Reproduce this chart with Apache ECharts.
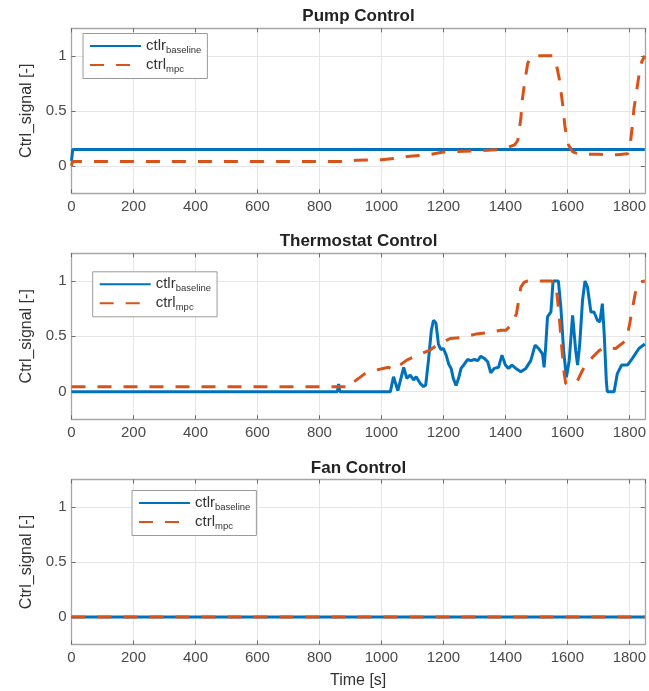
<!DOCTYPE html>
<html>
<head>
<meta charset="utf-8">
<script src="https://cdn.jsdelivr.net/npm/echarts@6/dist/echarts.min.js"></script>
<style>
  html, body { margin: 0; padding: 0; background: #fff; }
  #chart { width: 649px; height: 691px; }
</style>
</head>
<body>
<div id="chart"></div>
<script>
// ---------------- data ----------------
const panelTitles = ['Pump Control', 'Thermostat Control', 'Fan Control'];
const yTickValues = [0, 0.5, 1];
const xMin = 0, xMax = 1850, xStep = 200;
const yMin = -0.25, yMax = 1.25;

const pumpBaseline = [[0, 0.045], [4, 0.148], [1850, 0.148]];
const pumpMpc = [[0, 0.0], [3, 0.04], [880, 0.04], [920, 0.05], [1000, 0.055], [1050, 0.07], [1100, 0.09],
  [1150, 0.1], [1200, 0.125], [1300, 0.135], [1370, 0.145], [1410, 0.17], [1430, 0.19], [1440, 0.23],
  [1450, 0.43], [1455, 0.61], [1464, 0.79], [1472, 0.93], [1482, 0.99], [1498, 1], [1552, 1], [1563, 0.945],
  [1574, 0.79], [1584, 0.58], [1593, 0.34], [1604, 0.19], [1617, 0.127], [1638, 0.106], [1700, 0.105],
  [1760, 0.1], [1795, 0.11], [1804, 0.22], [1810, 0.37], [1815, 0.52], [1823, 0.67], [1831, 0.82],
  [1840, 0.945], [1850, 1.0]];

const thermoBaseline = [[0, 0], [858, 0], [862, 0.07], [866, 0], [1029, 0], [1039, 0.135], [1053, 0.01],
  [1072, 0.22], [1082, 0.12], [1093, 0.15], [1104, 0.105], [1112, 0.135], [1125, 0.075], [1136, 0.045],
  [1143, 0.06], [1152, 0.285], [1161, 0.55], [1168, 0.645], [1176, 0.62], [1184, 0.43], [1192, 0.38],
  [1200, 0.39], [1209, 0.33], [1217, 0.25], [1225, 0.21], [1232, 0.12], [1241, 0.055], [1249, 0.12],
  [1257, 0.21], [1268, 0.25], [1278, 0.29], [1289, 0.28], [1300, 0.29], [1311, 0.28], [1321, 0.32],
  [1332, 0.3], [1343, 0.27], [1353, 0.17], [1364, 0.21], [1378, 0.22], [1389, 0.33], [1400, 0.24],
  [1410, 0.21], [1421, 0.24], [1434, 0.21], [1450, 0.18], [1466, 0.21], [1482, 0.28], [1496, 0.42],
  [1507, 0.39], [1520, 0.34], [1525, 0.22], [1530, 0.4], [1536, 0.675], [1547, 0.72], [1554, 1.0],
  [1571, 1.0], [1579, 0.765], [1588, 0.37], [1597, 0.13], [1606, 0.28], [1617, 0.69], [1627, 0.37],
  [1633, 0.24], [1640, 0.43], [1649, 0.825], [1657, 1.0], [1665, 0.945], [1676, 0.72], [1686, 0.72],
  [1697, 0.645], [1705, 0.63], [1713, 0.795], [1719, 0.52], [1726, 0.087], [1729, 0], [1751, 0],
  [1761, 0.16], [1775, 0.24], [1794, 0.24], [1810, 0.3], [1831, 0.39], [1850, 0.43]];
const thermoMpc = [[0, 0.045], [905, 0.045], [912, 0.09], [948, 0.165], [975, 0.19], [1023, 0.22],
  [1039, 0.195], [1050, 0.22], [1082, 0.285], [1109, 0.32], [1157, 0.375], [1174, 0.41], [1187, 0.43],
  [1222, 0.48], [1262, 0.49], [1305, 0.52], [1348, 0.535], [1386, 0.555], [1402, 0.555], [1418, 0.6],
  [1436, 0.705], [1443, 0.825], [1450, 0.945], [1461, 0.99], [1472, 1.0], [1547, 1.0], [1563, 0.98],
  [1574, 0.675], [1582, 0.4], [1590, 0.16], [1595, 0.07], [1615, 0.08], [1633, 0.1], [1643, 0.16],
  [1660, 0.25], [1681, 0.31], [1702, 0.37], [1719, 0.4], [1756, 0.39], [1788, 0.46], [1799, 0.58],
  [1810, 0.75], [1820, 0.9], [1831, 0.99], [1850, 1.0]];

const fanBaseline = [[0, 0], [1850, 0]];
const fanMpc = [[0, 0], [1850, 0]];

// ---------------- styling / layout ----------------
const FONT = "'Liberation Sans', Arial, Helvetica, sans-serif";
const BLUE = '#0072BD', ORANGE = '#D95319';
const gridLeft = 71.5, gridRight = 3.5;
const grids = [
  { top: 28.3, height: 165 },
  { top: 253.3, height: 166 },
  { top: 479.5, height: 165 }
];
const titleTops = [8.2, 233, 459.5];
const legendPos = [
  { left: 83, top: 33.5 },
  { left: 92.7, top: 271.8 },
  { left: 132, top: 490.5 }
];
const panelData = [
  [pumpBaseline, pumpMpc],
  [thermoBaseline, thermoMpc],
  [fanBaseline, fanMpc]
];
const keys = ['pump', 'thermo', 'fan'];

const option = {
  backgroundColor: '#fff',
  animation: false,
  textStyle: { fontFamily: FONT },
  title: [], grid: [], xAxis: [], yAxis: [], legend: [], series: []
};

const borderLine = { show: true, onZero: false, lineStyle: { color: '#a6a6a6', width: 1.3 } };
const insideTick = { show: true, inside: true, length: 4, lineStyle: { color: '#6b6b6b', width: 1 } };
const plainNum = v => String(v);

for (let i = 0; i < 3; i++) {
  option.title.push({
    text: panelTitles[i], left: gridLeft + (649 - gridLeft - gridRight) / 2, top: titleTops[i],
    textAlign: 'center', padding: 0,
    textStyle: { fontFamily: FONT, fontSize: 17, fontWeight: 'bold', color: '#222' }
  });
  option.grid.push({ left: gridLeft, right: gridRight, top: grids[i].top, height: grids[i].height, containLabel: false });

  // bottom x
  option.xAxis.push({
    type: 'value', gridIndex: i, min: xMin, max: xMax, interval: xStep, position: 'bottom',
    axisLine: borderLine, axisTick: insideTick,
    axisLabel: { show: true, margin: 6, fontSize: 15, color: '#4a4a4a', fontFamily: FONT, showMaxLabel: false, formatter: plainNum },
    splitLine: { show: true, lineStyle: { color: '#e6e6e6', width: 1 } },
    name: i === 2 ? 'Time [s]' : '', nameLocation: 'middle', nameGap: 28.5,
    nameTextStyle: { fontSize: 16, color: '#333', fontFamily: FONT }
  });
  // top x (box)
  option.xAxis.push({
    type: 'value', gridIndex: i, min: xMin, max: xMax, interval: xStep, position: 'top',
    axisLine: borderLine, axisTick: insideTick, axisLabel: { show: false }, splitLine: { show: false }
  });
  // left y
  option.yAxis.push({
    type: 'value', gridIndex: i, min: yMin, max: yMax, position: 'left',
    axisLine: borderLine,
    axisTick: Object.assign({}, insideTick, { customValues: yTickValues }),
    axisLabel: { show: true, margin: 5, fontSize: 15, color: '#4a4a4a', fontFamily: FONT, customValues: yTickValues, formatter: plainNum },
    splitLine: { show: true, lineStyle: { color: '#e6e6e6', width: 1 } },
    name: 'Ctrl_signal [-]', nameLocation: 'middle', nameGap: 32,
    nameTextStyle: { fontSize: 16, color: '#333', fontFamily: FONT }
  });
  // right y (box)
  option.yAxis.push({
    type: 'value', gridIndex: i, min: yMin, max: yMax, position: 'right',
    axisLine: borderLine,
    axisTick: Object.assign({}, insideTick, { customValues: yTickValues }),
    axisLabel: { show: false, customValues: yTickValues }, splitLine: { show: false }
  });

  const nb = keys[i] + '_baseline', nm = keys[i] + '_mpc';
  option.series.push({
    name: nb, type: 'line', xAxisIndex: 2 * i, yAxisIndex: 2 * i, data: panelData[i][0],
    symbol: 'none', showSymbol: false, lineStyle: { color: BLUE, width: 3 }, itemStyle: { color: BLUE }, z: 2
  });
  option.series.push({
    name: nm, type: 'line', xAxisIndex: 2 * i, yAxisIndex: 2 * i, data: panelData[i][1],
    symbol: 'none', showSymbol: false, lineStyle: { color: ORANGE, width: 3, type: [14, 12] }, itemStyle: { color: ORANGE }, z: 3
  });

  option.legend.push({
    data: [nb, nm], orient: 'vertical', left: legendPos[i].left, top: legendPos[i].top,
    padding: [5, 6, 4, 6], itemGap: 2, itemWidth: 51, itemHeight: 14, itemTextGap: 5,
    backgroundColor: '#fff', borderColor: '#9a9a9a', borderWidth: 1, borderRadius: 0,
    selectedMode: false,
    itemStyle: { opacity: 0 },
    formatter: function (name) {
      return name.endsWith('_baseline') ? '{m|ctlr}{s|baseline}' : '{m|ctrl}{s|mpc}';
    },
    textStyle: {
      fontFamily: FONT, color: '#333',
      rich: {
        m: { fontSize: 15, lineHeight: 19, verticalAlign: 'middle', color: '#333', fontFamily: FONT },
        s: { fontSize: 9.5, lineHeight: 19, verticalAlign: 'bottom', color: '#333', fontFamily: FONT }
      }
    }
  });
}

const chart = echarts.init(document.getElementById('chart'), null, { renderer: 'canvas' });
chart.setOption(option);
</script>
</body>
</html>
